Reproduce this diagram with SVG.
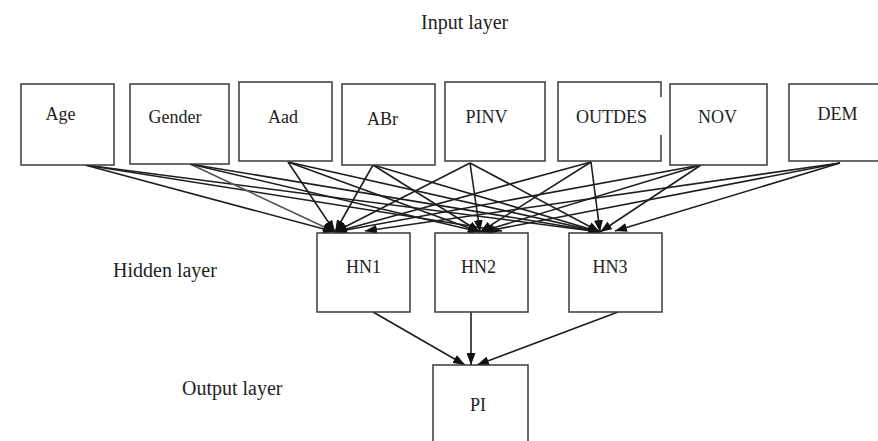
<svg xmlns="http://www.w3.org/2000/svg" width="878" height="441" viewBox="0 0 878 441">
<style>
.box{fill:#fff;stroke:#3a3a3a;stroke-width:1.5}
.lbl{font-family:"Liberation Serif","Times New Roman",serif;font-size:18px;fill:#222;text-anchor:middle}
.layer{font-family:"Liberation Serif","Times New Roman",serif;font-size:20px;fill:#222}
.con{stroke:#1e1e1e;stroke-width:1.6;fill:none;marker-end:url(#ah)}
</style>
<defs>
<marker id="ah" markerUnits="userSpaceOnUse" markerWidth="12" markerHeight="9" refX="12" refY="4.5" orient="auto">
<path d="M0,0 L12,4.5 L0,9 z" fill="#111"/>
</marker>
</defs>
<rect width="878" height="441" fill="#fff"/>
<text class="layer" x="421" y="29">Input layer</text>
<text class="layer" x="113" y="277">Hidden layer</text>
<text class="layer" x="182" y="395">Output layer</text>

<g id="connectors">
<line class="con" x1="85" y1="165" x2="335" y2="232"/>
<line class="con" x1="85" y1="165" x2="502" y2="231"/>
<line class="con" x1="85" y1="165" x2="600" y2="232"/>
<line class="con" x1="190" y1="164" x2="335" y2="232" style="stroke:#555"/>
<line class="con" x1="190" y1="164" x2="480" y2="232"/>
<line class="con" x1="190" y1="164" x2="600" y2="232"/>
<line class="con" x1="288" y1="162" x2="335" y2="232"/>
<line class="con" x1="288" y1="162" x2="480" y2="232"/>
<line class="con" x1="288" y1="162" x2="600" y2="232"/>
<line class="con" x1="373" y1="165" x2="335" y2="232"/>
<line class="con" x1="373" y1="165" x2="480" y2="232"/>
<line class="con" x1="373" y1="165" x2="600" y2="232"/>
<line class="con" x1="470" y1="163" x2="335" y2="232"/>
<line class="con" x1="470" y1="163" x2="480" y2="232"/>
<line class="con" x1="470" y1="163" x2="600" y2="232"/>
<line class="con" x1="591" y1="162" x2="335" y2="232"/>
<line class="con" x1="591" y1="162" x2="480" y2="232"/>
<line class="con" x1="591" y1="162" x2="600" y2="232"/>
<line class="con" x1="701" y1="165" x2="335" y2="232"/>
<line class="con" x1="701" y1="165" x2="480" y2="232"/>
<line class="con" x1="701" y1="165" x2="600" y2="232"/>
<line class="con" x1="840" y1="163" x2="365" y2="231"/>
<line class="con" x1="840" y1="163" x2="482" y2="232"/>
<line class="con" x1="840" y1="163" x2="615" y2="231"/>
<line class="con" x1="373" y1="312" x2="465" y2="365"/>
<line class="con" x1="471" y1="312" x2="471" y2="365"/>
<line class="con" x1="618" y1="312" x2="477" y2="365"/>
</g>

<g id="age"><rect class="box" x="21" y="84" width="93" height="81"/><text class="lbl" x="60.5" y="120">Age</text></g>
<g id="gender"><rect class="box" x="130" y="84" width="99" height="80"/><text class="lbl" x="175" y="123">Gender</text></g>
<g id="aad"><rect class="box" x="239" y="82" width="93" height="79"/><text class="lbl" x="283" y="123">Aad</text></g>
<g id="abr"><rect class="box" x="342" y="84" width="93" height="81"/><text class="lbl" x="382.5" y="125">ABr</text></g>
<g id="pinv"><rect class="box" x="445" y="82" width="100" height="79"/><text class="lbl" x="486.5" y="123">PINV</text></g>
<g id="outdes"><path class="box" d="M661,97 L661,82 L558,82 L558,161 L661,161 L661,135"/><text class="lbl" x="611.5" y="123">OUTDES</text></g>
<g id="nov"><rect class="box" x="670" y="84" width="97" height="81"/><text class="lbl" x="717.5" y="123">NOV</text></g>
<g id="dem"><rect class="box" x="789" y="84" width="100" height="77"/><text class="lbl" x="837.5" y="120">DEM</text></g>

<g id="hn1"><rect class="box" x="317" y="233" width="93" height="79"/><text class="lbl" x="363.5" y="273">HN1</text></g>
<g id="hn2"><rect class="box" x="435" y="233" width="93" height="79"/><text class="lbl" x="478.5" y="273">HN2</text></g>
<g id="hn3"><rect class="box" x="569" y="233" width="93" height="79"/><text class="lbl" x="610" y="273">HN3</text></g>

<g id="pi"><rect class="box" x="433" y="365" width="95" height="90"/><text class="lbl" x="478" y="411">PI</text></g>
</svg>
